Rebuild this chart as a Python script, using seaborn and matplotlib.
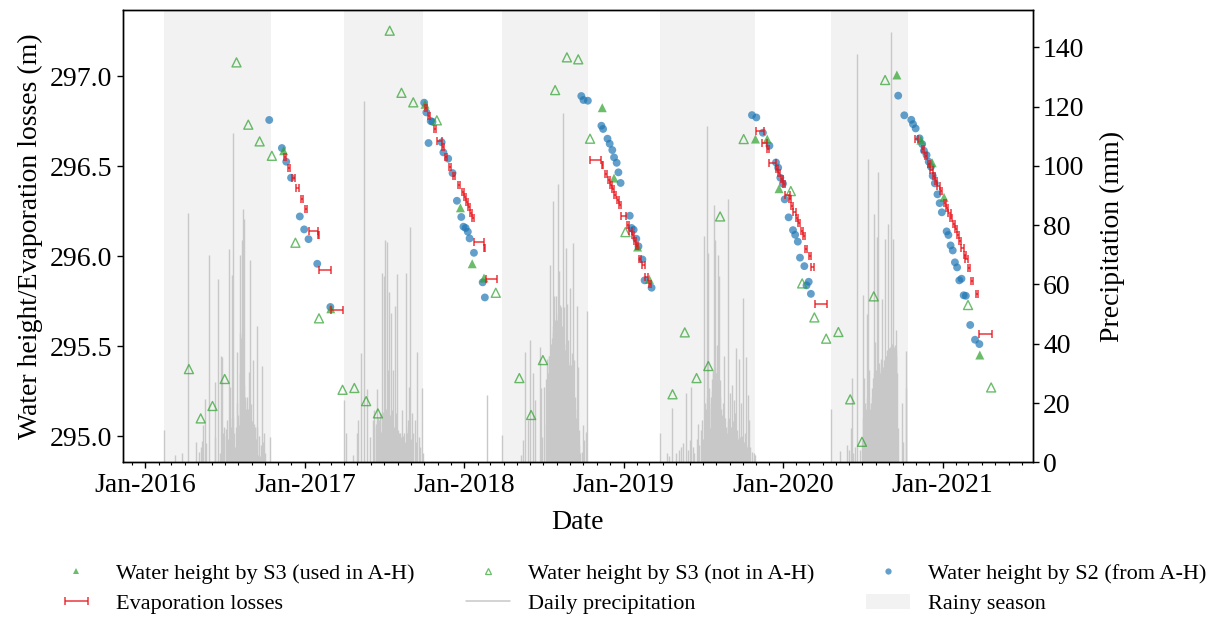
import numpy as np
import pandas as pd
import matplotlib
matplotlib.use("Agg")
import matplotlib.pyplot as plt
import matplotlib.dates as mdates
from matplotlib.lines import Line2D
from matplotlib.patches import Patch
from matplotlib.ticker import MultipleLocator, FormatStrFormatter
import seaborn as sns

# ---------------- data ----------------
s3_used_dates = ['2016-11-13', '2017-03-01', '2017-10-03', '2017-12-23', '2018-01-19', '2018-02-15',
                 '2018-11-13', '2018-12-10', '2019-02-02', '2019-03-01', '2019-10-30', '2019-11-26',
                 '2019-12-23', '2020-09-18', '2020-11-12', '2020-12-08', '2021-01-04', '2021-03-27']
s3_used_h = [296.585, 295.707, 296.843, 296.268, 295.957, 295.878,
             296.824, 296.433, 296.050, 295.870, 296.650, 296.650,
             296.374, 297.006, 296.644, 296.518, 296.326, 295.450]

s3_not_dates = ['2016-04-10', '2016-05-07', '2016-06-03', '2016-07-01', '2016-07-28', '2016-08-24',
                '2016-09-19', '2016-10-17', '2016-12-10', '2017-02-02', '2017-03-28', '2017-04-24',
                '2017-05-21', '2017-06-17', '2017-07-14', '2017-08-10', '2017-09-06', '2017-10-30',
                '2018-03-14', '2018-05-07', '2018-06-03', '2018-06-30', '2018-07-28', '2018-08-24',
                '2018-09-19', '2018-10-16', '2019-01-05', '2019-04-23', '2019-05-21', '2019-06-17',
                '2019-07-14', '2019-08-10', '2019-10-03', '2020-01-19', '2020-02-14', '2020-03-13',
                '2020-04-09', '2020-05-07', '2020-06-03', '2020-06-30', '2020-07-27', '2020-08-22',
                '2021-02-28', '2021-04-22']
s3_not_h = [295.372, 295.098, 295.167, 295.317, 297.076, 296.730,
            296.637, 296.557, 296.074, 295.654, 295.257, 295.267,
            295.194, 295.126, 297.252, 296.907, 296.854, 296.754,
            295.796, 295.322, 295.117, 295.422, 296.922, 297.104,
            297.093, 296.652, 296.133, 295.232, 295.576, 295.322,
            295.389, 296.220, 296.650, 296.361, 295.848, 295.659,
            295.541, 295.578, 295.204, 294.968, 295.776, 296.978,
            295.728, 295.270]

s2_dates = ['2016-10-11', '2016-11-09', '2016-11-19', '2016-11-30', '2016-12-20', '2016-12-30',
            '2017-01-09', '2017-01-29', '2017-02-28',
            '2017-10-01', '2017-10-06', '2017-10-11', '2017-10-16', '2017-10-20', '2017-11-10',
            '2017-11-14', '2017-11-25', '2017-12-05', '2017-12-15', '2017-12-25', '2017-12-30',
            '2018-01-04', '2018-01-09', '2018-01-13', '2018-01-23', '2018-02-12', '2018-02-17',
            '2018-09-26', '2018-10-01', '2018-10-11', '2018-11-11', '2018-11-15', '2018-11-25',
            '2018-11-30', '2018-12-06', '2018-12-10', '2018-12-16', '2018-12-20', '2018-12-25',
            '2019-01-15', '2019-01-19', '2019-01-24', '2019-01-30', '2019-02-04', '2019-02-13',
            '2019-02-18', '2019-03-06',
            '2019-10-22', '2019-11-01', '2019-11-16', '2019-12-01', '2019-12-16', '2019-12-21',
            '2019-12-26', '2020-01-01', '2020-01-05', '2020-01-14', '2020-01-24', '2020-01-29',
            '2020-02-04', '2020-02-09', '2020-02-19', '2020-02-24', '2020-02-29', '2020-03-05',
            '2020-09-21', '2020-10-05', '2020-10-21', '2020-10-25', '2020-10-31', '2020-11-09',
            '2020-11-15', '2020-11-19', '2020-11-25', '2020-11-30', '2020-12-05', '2020-12-09',
            '2020-12-14', '2020-12-20', '2020-12-25', '2020-12-30', '2021-01-10', '2021-01-14',
            '2021-01-19', '2021-01-24', '2021-01-29', '2021-02-03', '2021-02-08', '2021-02-13',
            '2021-02-18', '2021-02-23', '2021-03-05', '2021-03-16', '2021-03-26']
s2_h = [296.756, 296.600, 296.524, 296.435, 296.220, 296.148,
        296.094, 295.957, 295.717,
        296.852, 296.798, 296.628, 296.750, 296.746, 296.632,
        296.576, 296.541, 296.461, 296.307, 296.217, 296.163,
        296.156, 296.135, 296.098, 296.018, 295.854, 295.770,
        296.889, 296.867, 296.863, 296.724, 296.706, 296.652,
        296.624, 296.589, 296.548, 296.518, 296.465, 296.406,
        296.224, 296.156, 296.146, 296.096, 296.054, 295.981,
        295.865, 295.824,
        296.783, 296.770, 296.685, 296.613, 296.520, 296.491,
        296.435, 296.402, 296.315, 296.215, 296.144, 296.118,
        296.080, 295.991, 295.944, 295.837, 295.857, 295.790,
        296.891, 296.782, 296.757, 296.733, 296.709, 296.654,
        296.622, 296.585, 296.561, 296.524, 296.496, 296.446,
        296.404, 296.343, 296.294, 296.243, 296.137, 296.117,
        296.059, 296.031, 295.965, 295.937, 295.865, 295.874,
        295.782, 295.779, 295.617, 295.535, 295.511]

evap_start = ['2016-11-13', '2016-11-22', '2016-12-02', '2016-12-12', '2016-12-22', '2016-12-31',
              '2017-01-09', '2017-01-31', '2017-02-01', '2017-03-02',
              '2017-10-03', '2017-10-09', '2017-10-23', '2017-10-30', '2017-11-10', '2017-11-17',
              '2017-11-27', '2017-12-06', '2017-12-17', '2017-12-26', '2017-12-31', '2018-01-04',
              '2018-01-10', '2018-01-13', '2018-01-19', '2018-01-23', '2018-02-16', '2018-02-20',
              '2018-10-16', '2018-11-12', '2018-11-19', '2018-11-26', '2018-11-30', '2018-12-06',
              '2018-12-10', '2018-12-16', '2018-12-21', '2018-12-25', '2019-01-08', '2019-01-14',
              '2019-01-20', '2019-01-25', '2019-01-29', '2019-02-05', '2019-02-13', '2019-02-20',
              '2019-02-28',
              '2019-11-01', '2019-11-14', '2019-11-26', '2019-11-30', '2019-12-16', '2019-12-21',
              '2019-12-27', '2019-12-31', '2020-01-05', '2020-01-15', '2020-01-20', '2020-01-25',
              '2020-01-31', '2020-02-04', '2020-02-11', '2020-02-15', '2020-02-20', '2020-03-01',
              '2020-03-06', '2020-03-14',
              '2020-10-30', '2020-11-14', '2020-11-22', '2020-11-28', '2020-12-04', '2020-12-10',
              '2020-12-15', '2020-12-20', '2020-12-25', '2021-01-04', '2021-01-09', '2021-01-14',
              '2021-01-18', '2021-01-24', '2021-01-29', '2021-02-03', '2021-02-08', '2021-02-13',
              '2021-02-18', '2021-02-22', '2021-02-27', '2021-03-07', '2021-03-18', '2021-03-26']
evap_end = ['2016-11-19', '2016-11-28', '2016-12-08', '2016-12-18', '2016-12-28', '2017-01-06',
            '2017-01-30', '2017-02-02', '2017-03-02', '2017-03-29',
            '2017-10-08', '2017-10-14', '2017-10-28', '2017-11-11', '2017-11-15', '2017-11-22',
            '2017-12-02', '2017-12-11', '2017-12-22', '2017-12-31', '2018-01-05', '2018-01-09',
            '2018-01-15', '2018-01-18', '2018-01-24', '2018-02-15', '2018-02-18', '2018-03-16',
            '2018-11-11', '2018-11-14', '2018-11-24', '2018-12-01', '2018-12-05', '2018-12-11',
            '2018-12-15', '2018-12-21', '2018-12-26', '2019-01-07', '2019-01-13', '2019-01-19',
            '2019-01-25', '2019-01-30', '2019-02-03', '2019-02-10', '2019-02-18', '2019-02-25',
            '2019-03-05',
            '2019-11-18', '2019-11-26', '2019-12-01', '2019-12-17', '2019-12-21', '2019-12-26',
            '2020-01-01', '2020-01-05', '2020-01-17', '2020-01-20', '2020-01-25', '2020-01-30',
            '2020-02-05', '2020-02-09', '2020-02-16', '2020-02-20', '2020-02-25', '2020-03-06',
            '2020-03-11', '2020-04-10',
            '2020-11-05', '2020-11-19', '2020-11-27', '2020-12-03', '2020-12-09', '2020-12-15',
            '2020-12-20', '2020-12-25', '2020-12-30', '2021-01-09', '2021-01-14', '2021-01-19',
            '2021-01-23', '2021-01-29', '2021-02-03', '2021-02-08', '2021-02-13', '2021-02-18',
            '2021-02-23', '2021-02-27', '2021-03-04', '2021-03-12', '2021-03-23', '2021-04-25']
evap_h = [296.550, 296.490, 296.433, 296.376, 296.317, 296.260,
          296.140, 296.117, 295.922, 295.702,
          296.820, 296.780, 296.704, 296.637, 296.607, 296.552,
          296.496, 296.443, 296.396, 296.356, 296.326, 296.300,
          296.272, 296.241, 296.211, 296.080, 296.044, 295.874,
          296.533, 296.504, 296.454, 296.424, 296.396, 296.370,
          296.341, 296.311, 296.285, 296.224, 296.174, 296.141,
          296.115, 296.085, 296.056, 295.985, 295.948, 295.885,
          295.844,
          296.696, 296.630, 296.596, 296.515, 296.485, 296.459,
          296.428, 296.402, 296.341, 296.317, 296.280, 296.246,
          296.213, 296.181, 296.141, 296.111, 296.037, 296.000,
          295.939, 295.735,
          296.648, 296.593, 296.556, 296.511, 296.478, 296.444,
          296.418, 296.389, 296.361, 296.296, 296.268, 296.241,
          296.209, 296.178, 296.148, 296.115, 296.083, 296.044,
          296.007, 295.981, 295.935, 295.863, 295.787, 295.568]

rainy_start = ['2016-02-13', '2017-04-01', '2018-03-28', '2019-03-26', '2020-04-20']
rainy_end = ['2016-10-15', '2017-09-29', '2018-10-11', '2019-10-30', '2020-10-13']

# daily precipitation: (day since 2016-01-01, mm)
rain_2016 = [(44, 11), (69, 2.5), (84, 3), (97, 84), (117, 7), (124, 3.4), (127, 5.3), (130, 7.2),
             (133, 12.6), (136, 21.4), (138, 6.4), (147, 70), (159, 27), (160, 8.7), (166, 62),
             (172, 3), (174, 35.7), (176, 35.5), (178, 10), (181, 12), (184, 11.4), (185, 9),
             (187, 14.2), (189, 8), (191, 72), (193, 15), (195, 25.3), (196, 12), (198, 63.3),
             (200, 111), (202, 15.4), (204, 10), (206, 5.3), (207, 12), (209, 37.3), (210, 20),
             (212, 7.5), (213, 16), (214, 12.6), (216, 70), (217, 30), (218, 43.6), (219, 40),
             (220, 42), (221, 75), (222, 43), (223, 40), (224, 85.5), (225, 43), (226, 26),
             (227, 82), (228, 22), (229, 20.6), (230, 18), (231, 15), (233, 12.6), (234, 22),
             (235, 18), (237, 30.6), (238, 18), (240, 68.3), (241, 15), (243, 19.7), (244, 14),
             (246, 34.5), (247, 10), (248, 13), (250, 9), (251, 12), (253, 8), (255, 46),
             (256, 12), (258, 2.5), (260, 9), (263, 2), (265, 6), (268, 32.6), (270, 7),
             (273, 10), (275, 3), (286, 8.7)]
rain_2017 = [(456, 21), (460, 9.8), (477, 2.5), (485, 9.8), (487, 14.3), (495, 36.8), (500, 122),
             (509, 24.7), (515, 8.7), (521, 14.3), (523, 12), (525, 17.7), (528, 13), (530, 14),
             (532, 24.6), (534, 15), (536, 14.3), (538, 16.5), (540, 10.3), (542, 15),
             (543, 63.8), (544, 17), (546, 62.9), (547, 16), (549, 75), (551, 18), (553, 74.2),
             (555, 15), (556, 31.2), (557, 14), (559, 57.4), (560, 16), (562, 50.3), (563, 12),
             (565, 17.7), (566, 10), (568, 31.2), (569, 12), (571, 52.8), (572, 11), (574, 16.5),
             (575, 9), (577, 63.6), (578, 8), (580, 10.9), (581, 10), (583, 9.8), (584, 8),
             (586, 8.7), (587, 6), (589, 17.7), (590, 9), (592, 9.8), (593, 6), (595, 5.3),
             (596, 7), (598, 64), (599, 10), (601, 14.3), (602, 12), (604, 25.5), (605, 9),
             (607, 79.5), (608, 8), (610, 16.5), (611, 6), (613, 9.8), (617, 14.3), (620, 7),
             (623, 37.1), (626, 8.7), (630, 5.3), (633, 25.2), (636, 3), (784, 22.7)]
rain_2018 = [(818, 9.2), (860, 2.5), (866, 7.5), (869, 37.3), (877, 14.3), (882, 41.3), (889, 30),
             (892, 21), (904, 39), (907, 25), (910, 8.7), (913, 25.5), (917, 13), (919, 28),
             (921, 35), (922, 30), (924, 35.7), (925, 33), (926, 35.7), (927, 34), (928, 66.6),
             (929, 35), (930, 40), (931, 29), (932, 42), (933, 44), (934, 88), (935, 46),
             (936, 45), (937, 56), (938, 48), (939, 44), (940, 23.3), (941, 46), (942, 56),
             (943, 48), (944, 45), (945, 94), (946, 50), (947, 48), (948, 64.7), (949, 50),
             (950, 53), (951, 47), (952, 45), (953, 52.5), (954, 46), (955, 44), (956, 117.8),
             (957, 45), (958, 42), (959, 52.5), (960, 40), (961, 23.3), (962, 38), (963, 72.2),
             (964, 40), (965, 36), (966, 53.3), (967, 36), (968, 34), (969, 41.3), (970, 33),
             (971, 30), (972, 58.7), (973, 30), (974, 28), (975, 32.8), (976, 28), (977, 26),
             (978, 36.8), (979, 25), (980, 22), (981, 74), (982, 20), (983, 34.5), (984, 18),
             (985, 22.2), (986, 15), (987, 12), (988, 52.9), (989, 14), (990, 10), (991, 32.3),
             (992, 8), (993, 6), (994, 11), (997, 3), (1001, 3.6), (1003, 12.6), (1006, 7.5),
             (1009, 10.3), (1013, 51)]
rain_2019 = [(1180, 9.8), (1196, 3), (1200, 2), (1206, 18.2), (1215, 3), (1222, 4), (1227, 5),
             (1231, 6.4), (1239, 23.3), (1243, 4), (1247, 7.5), (1251, 25.5), (1255, 5), (1258, 3),
             (1263, 8), (1267, 13), (1269, 6), (1273, 10.9), (1276, 14.3), (1278, 8), (1281, 76.2),
             (1282, 20), (1284, 9.8), (1285, 18), (1286, 113.5), (1288, 22), (1290, 70.5),
             (1291, 25), (1292, 18), (1294, 11.5), (1295, 22), (1297, 20), (1298, 28), (1299, 24),
             (1300, 31.2), (1301, 30), (1302, 26), (1303, 86.8), (1304, 28), (1305, 32),
             (1306, 75), (1307, 25), (1308, 30), (1309, 39.6), (1310, 22), (1311, 28), (1312, 70),
             (1313, 25), (1314, 20), (1315, 62.9), (1316, 22), (1317, 27.8), (1318, 18),
             (1319, 15), (1320, 14.3), (1321, 16), (1322, 12), (1323, 20), (1324, 14), (1325, 15),
             (1326, 35.9), (1327, 12), (1328, 10), (1329, 14.8), (1330, 12), (1331, 8),
             (1332, 6.4), (1333, 10), (1334, 12), (1335, 14), (1336, 88.8), (1337, 15), (1338, 12),
             (1339, 23.3), (1340, 10), (1341, 9), (1342, 8.7), (1343, 12), (1344, 10), (1345, 26),
             (1346, 14), (1347, 10), (1348, 21), (1349, 9), (1350, 12), (1351, 16.5), (1352, 10),
             (1353, 8), (1354, 38.5), (1355, 9), (1356, 11), (1357, 7.5), (1358, 8), (1359, 6),
             (1360, 35), (1361, 7), (1362, 5), (1363, 8.7), (1364, 8), (1365, 6), (1366, 20),
             (1367, 9), (1368, 6), (1370, 55.3), (1371, 7), (1372, 5), (1374, 9.8), (1375, 6),
             (1377, 35.4), (1378, 5), (1380, 6), (1381, 22.7), (1383, 4), (1384, 14.3), (1386, 5),
             (1389, 3.6), (1394, 3), (1398, 2.5)]
rain_2020 = [(1571, 18), (1592, 3.9), (1608, 5.8), (1612, 4), (1618, 11.5), (1619, 28.3),
             (1622, 3), (1627, 5), (1631, 137.8), (1638, 4), (1642, 7.5), (1644, 56.5), (1645, 15),
             (1646, 12), (1647, 28.3), (1648, 10), (1649, 20), (1650, 15.4), (1651, 18), (1652, 12),
             (1653, 50), (1654, 21.6), (1655, 25), (1656, 102.2), (1657, 20), (1658, 15),
             (1659, 31.2), (1660, 18), (1661, 12), (1662, 10.3), (1663, 20), (1664, 15),
             (1665, 22.2), (1666, 25), (1667, 18), (1668, 28.3), (1669, 30), (1670, 83.7),
             (1671, 28), (1672, 40.7), (1673, 22), (1674, 25), (1675, 31.2), (1676, 30),
             (1677, 75.9), (1678, 28), (1679, 98), (1680, 32), (1681, 25), (1682, 33.4), (1683, 30),
             (1684, 28), (1685, 31.2), (1686, 35), (1687, 55), (1688, 30), (1689, 23.3), (1690, 32),
             (1691, 28), (1692, 34.5), (1693, 30), (1694, 35), (1695, 75.4), (1696, 36),
             (1697, 35.7), (1698, 32), (1699, 17.7), (1700, 38), (1701, 80.4), (1702, 36),
             (1703, 38), (1704, 38.5), (1705, 37), (1706, 38), (1707, 38.8), (1708, 39),
             (1709, 145.2), (1710, 40), (1711, 38.5), (1712, 38), (1713, 35), (1714, 75.4),
             (1715, 37), (1716, 39), (1717, 38), (1718, 39.6), (1719, 38), (1720, 36), (1721, 44.7),
             (1722, 30), (1723, 10), (1724, 11.5), (1734, 20), (1737, 7), (1742, 37.6), (1744, 25)]

# ---------------- style ----------------
sns.set_theme(style="ticks", rc={"axes.edgecolor": "black", "xtick.color": "black",
                                 "ytick.color": "black", "axes.labelcolor": "black",
                                 "text.color": "black"})
plt.rcParams['font.family'] = ['Liberation Serif', 'DejaVu Serif']

green = '#2ca02c'
blue = '#1f77b4'
red = '#e8141a'
rain_col = '#c8c8c8'

to_dt = lambda s: pd.to_datetime(pd.Series(s))
base = pd.Timestamp('2016-01-01')

fig, ax = plt.subplots(figsize=(12.12, 6.17), dpi=100)
fig.subplots_adjust(left=0.1015, right=0.852, top=0.9838, bottom=0.2507)
ax2 = ax.twinx()
ax.set_zorder(ax2.get_zorder() + 1)
ax.patch.set_visible(False)

# rainy seasons + precipitation on the secondary axis (drawn behind)
for s, e in zip(rainy_start, rainy_end):
    ax2.axvspan(mdates.date2num(pd.Timestamp(s)), mdates.date2num(pd.Timestamp(e)),
                color='gray', alpha=0.1, lw=0, zorder=0)
rain = pd.DataFrame(rain_2016 + rain_2017 + rain_2018 + rain_2019 + rain_2020,
                    columns=['day', 'mm'])
rain['date'] = base + pd.to_timedelta(rain['day'], unit='D')
ax2.vlines(mdates.date2num(rain['date']), 0, rain['mm'], color=rain_col, lw=1.0, zorder=1)

# water heights
sns.scatterplot(x=to_dt(s2_dates), y=s2_h, ax=ax, color=blue, alpha=0.7, s=32,
                edgecolor='none', linewidth=0, legend=False, zorder=3)
sns.scatterplot(x=to_dt(s3_used_dates), y=s3_used_h, ax=ax, color=green, alpha=0.7, s=42,
                marker='^', edgecolor='none', linewidth=0, legend=False, zorder=4)
ax.scatter(mdates.date2num(to_dt(s3_not_dates)), s3_not_h, marker='^', s=42,
           facecolors='none', edgecolors=green, linewidths=1.0, alpha=0.7, zorder=4)

# evaporation losses
st = mdates.date2num(to_dt(evap_start))
en = mdates.date2num(to_dt(evap_end))
eb = ax.errorbar((st + en) / 2, evap_h, xerr=(en - st) / 2, fmt='none', ecolor=red,
                 elinewidth=1.1, capsize=2.6, capthick=1.1, alpha=0.85, zorder=5)

# axes
ax.set_xlim(mdates.date2num(pd.Timestamp('2015-11-11')), mdates.date2num(pd.Timestamp('2021-07-26')))
ax.set_ylim(294.854, 297.367)
ax2.set_ylim(0, 152.6)
ax.xaxis.set_major_locator(mdates.YearLocator(month=1, day=1))
ax.xaxis.set_major_formatter(mdates.DateFormatter('%b-%Y'))
ax.xaxis.set_minor_locator(mdates.MonthLocator())
ax.yaxis.set_major_locator(MultipleLocator(0.5))
ax.yaxis.set_major_formatter(FormatStrFormatter('%.1f'))
ax2.yaxis.set_major_locator(MultipleLocator(20))

ax.tick_params(axis='both', which='major', labelsize=20, length=4, width=1)
ax.tick_params(axis='x', which='minor', length=2, width=0.8)
ax2.tick_params(axis='y', which='major', labelsize=20, length=4, width=1)
ax.set_xlabel('Date', fontsize=20, labelpad=9)
ax.set_ylabel('Water height/Evaporation losses (m)', fontsize=20, labelpad=5)
ax2.set_ylabel('Precipitation (mm)', fontsize=20, labelpad=11)
for a in (ax, ax2):
    for sp in a.spines.values():
        sp.set_color('black')
        sp.set_linewidth(1.0)

# legend
h_used = Line2D([], [], marker='^', ls='none', color=green, alpha=0.7, markersize=5, mew=0)
h_not = Line2D([], [], marker='^', ls='none', mfc='none', mec=green, alpha=0.7, markersize=5, mew=0.9)
h_s2 = Line2D([], [], marker='o', ls='none', color=blue, alpha=0.7, markersize=4.5, mew=0)
h_rain = Line2D([], [], color=rain_col, lw=1.1)
h_rainy = Patch(facecolor='gray', alpha=0.1, edgecolor='none')
handles = [h_used, eb, h_not, h_rain, h_s2, h_rainy]
labels = ['Water height by S3 (used in A-H)', 'Evaporation losses',
          'Water height by S3 (not in A-H)', 'Daily precipitation',
          'Water height by S2 (from A-H)', 'Rainy season']
fig.legend(handles, labels, loc='center', bbox_to_anchor=(0.52, 0.046), ncol=3,
           frameon=False, fontsize=16, labelspacing=0.45, columnspacing=2.3,
           handlelength=2.0, handletextpad=0.8)

fig.savefig('out.png', dpi=100)
